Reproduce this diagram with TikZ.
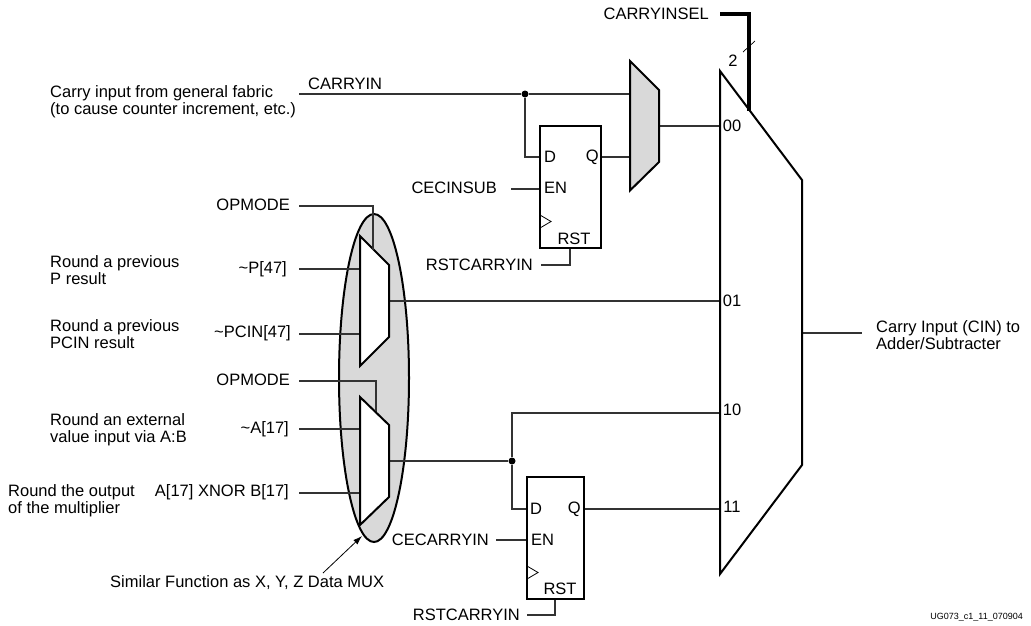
\documentclass[tikz,border=0pt]{standalone}
\usepackage{fontspec}
\setmainfont{Liberation Sans}
\usetikzlibrary{arrows.meta}
\definecolor{muxgray}{HTML}{D9D9D9}
\definecolor{wire}{HTML}{333333}
\tikzset{
  lab/.style={inner sep=0pt,font=\fontsize{16.5}{17}\selectfont},
  leftlab/.style={lab,anchor=west,align=left},
  tiny/.style={inner sep=0pt,font=\fontsize{9}{10}\selectfont},
  wireline/.style={draw=wire,line width=1.2pt},
  shp/.style={draw=black,line width=2pt,line join=miter},
  dotnode/.style={circle,fill=black,inner sep=0pt,minimum size=7pt}
}
\begin{document}
\begin{tikzpicture}[x=1pt,y=-1pt]
\useasboundingbox (0,0) rectangle (1031,625);
% ellipse
\draw[shp,fill=muxgray] (374,378) ellipse [x radius=35,y radius=164];
% coordinates
\coordinate (cisel) at (720,14);
\coordinate (ciselb) at (749,14);
\coordinate (ciselc) at (749,111);
\coordinate (ci0) at (299,94);
\coordinate (opa0) at (299,206);
\coordinate (opb0) at (299,381);
\coordinate (pin0) at (299,269);
\coordinate (pcin0) at (299,334);
\coordinate (ain0) at (299,429);
\coordinate (xin0) at (299,493);
\coordinate (outend) at (862,333);
\coordinate (en1) at (511,189);
\coordinate (en2) at (496,540);
\coordinate (rst1) at (541,265);
\coordinate (rst2) at (527,615);
\coordinate (arrs) at (323,573);
\coordinate (arre) at (362,536);
% wires behind shapes
\node[dotnode] (dot1) at (525,94) {};
\node[dotnode] (dot2) at (512,461) {};
\draw[wireline] (ci0) -- (dot1) -- (630,94);
\draw[wireline] (dot1) -- (525,157) -- (540,157);
\draw[wireline] (601,157) -- (630,157);
\draw[wireline] (659,126) -- (720,126);
\draw[wireline] (en1) -- (540,189);
\draw[wireline] (rst1) -- (570,265) -- (570,248);
\draw[wireline] (opa0) -- (373,206) -- (373,249);
\draw[wireline] (pin0) -- (360,269);
\draw[wireline] (pcin0) -- (360,334);
\draw[wireline] (opb0) -- (376,381) -- (376,412);
\draw[wireline] (ain0) -- (360,429);
\draw[wireline] (xin0) -- (360,493);
\draw[wireline] (389,301) -- (720,301);
\draw[wireline] (389,461) -- (dot2);
\draw[wireline] (dot2) -- (512,413) -- (720,413);
\draw[wireline] (dot2) -- (512,509) -- (527,509);
\draw[wireline] (584,509) -- (720,509);
\draw[wireline] (en2) -- (527,540);
\draw[wireline] (rst2) -- (555,615) -- (555,599);
\draw[wireline] (802,333) -- (outend);
\draw[line width=3.2pt,line cap=butt] (cisel) -- (ciselb) -- (ciselc);
\draw[line width=0.7pt] (743,52) -- (755,41);
% muxes
\draw[shp,fill=muxgray] (630,61) -- (659,90) -- (659,162) -- (630,190.5) -- cycle;
\draw[shp,fill=white] (360,236) -- (389,265) -- (389,337) -- (360,366) -- cycle;
\draw[shp,fill=white] (360,397) -- (389,425) -- (389,497) -- (360,525) -- cycle;
\draw[wireline] (373,206) -- (373,250);
\draw[wireline] (376,381) -- (376,411);
\draw[shp] (720,71) -- (802,180) -- (802,465) -- (720,574) -- cycle;
% flip-flops
\draw[shp] (540,126) rectangle (601,248);
\draw[shp] (527,477) rectangle (584,599);
\draw[line width=0.8pt] (540,215) -- (551,221.5) -- (540,228);
\draw[line width=0.8pt] (527,566) -- (538,572.5) -- (527,579);
% arrow
\draw[line width=0.8pt,-{Latex[length=9pt,width=6pt]}] (arrs) -- (arre);
% labels
\node[lab,anchor=east] (tsel) at (709,14) {CARRYINSEL};
\node[lab] (t2) at (733,61) {2};
\node[lab,anchor=west] (tcin) at (308,84) {CARRYIN};
\node[leftlab] (tcin2) at (50,101.5) {Carry input from general fabric\\(to cause counter increment, etc.)};
\node[lab,anchor=west] (fd1) at (544,157) {D};
\node[lab,anchor=east] (fq1) at (599,157) {Q};
\node[lab,anchor=west] (fe1) at (544,188) {EN};
\node[lab] (fr1) at (574,239) {RST};
\node[lab] (l00) at (732,126) {00};
\node[lab] (l01) at (732,301) {01};
\node[lab] (l10) at (732,410) {10};
\node[lab] (l11) at (732,507) {11};
\node[lab,anchor=east] (tce1) at (497,188) {CECINSUB};
\node[lab,anchor=east] (tr1) at (533,265) {RSTCARRYIN};
\node[lab,anchor=east] (top1) at (290,205) {OPMODE};
\node[lab,anchor=east] (top2) at (290,380) {OPMODE};
\node[lab,anchor=east] (tp) at (287,269) {\textasciitilde P[47]};
\node[lab,anchor=east] (tpc) at (291,333) {\textasciitilde PCIN[47]};
\node[lab,anchor=east] (ta) at (289,429) {\textasciitilde A[17]};
\node[lab,anchor=east] (tx) at (289,492) {A[17] XNOR B[17]};
\node[leftlab] (r1) at (50,270) {Round a previous\\P result};
\node[leftlab] (r2) at (50,334) {Round a previous\\PCIN result};
\node[leftlab] (r3) at (50,430) {Round an external\\value input via A:B};
\node[leftlab] (r4) at (8,501) {Round the output\\of the multiplier};
\node[lab,anchor=west] (sim) at (110,583) {Similar Function as X, Y, Z Data MUX};
\node[lab,anchor=west] (fd2) at (530,509) {D};
\node[lab,anchor=east] (fq2) at (581,509) {Q};
\node[lab,anchor=west] (fe2) at (531,540) {EN};
\node[lab] (fr2) at (560,589) {RST};
\node[lab,anchor=east] (tce2) at (489,540) {CECARRYIN};
\node[lab,anchor=east] (tr2) at (520,615) {RSTCARRYIN};
\node[leftlab] (tout) at (876,335) {Carry Input (CIN) to\\Adder/Subtracter};
\node[tiny,anchor=east] (ug) at (1023,617) {UG073\_c1\_11\_070904};
\end{tikzpicture}
\end{document}
